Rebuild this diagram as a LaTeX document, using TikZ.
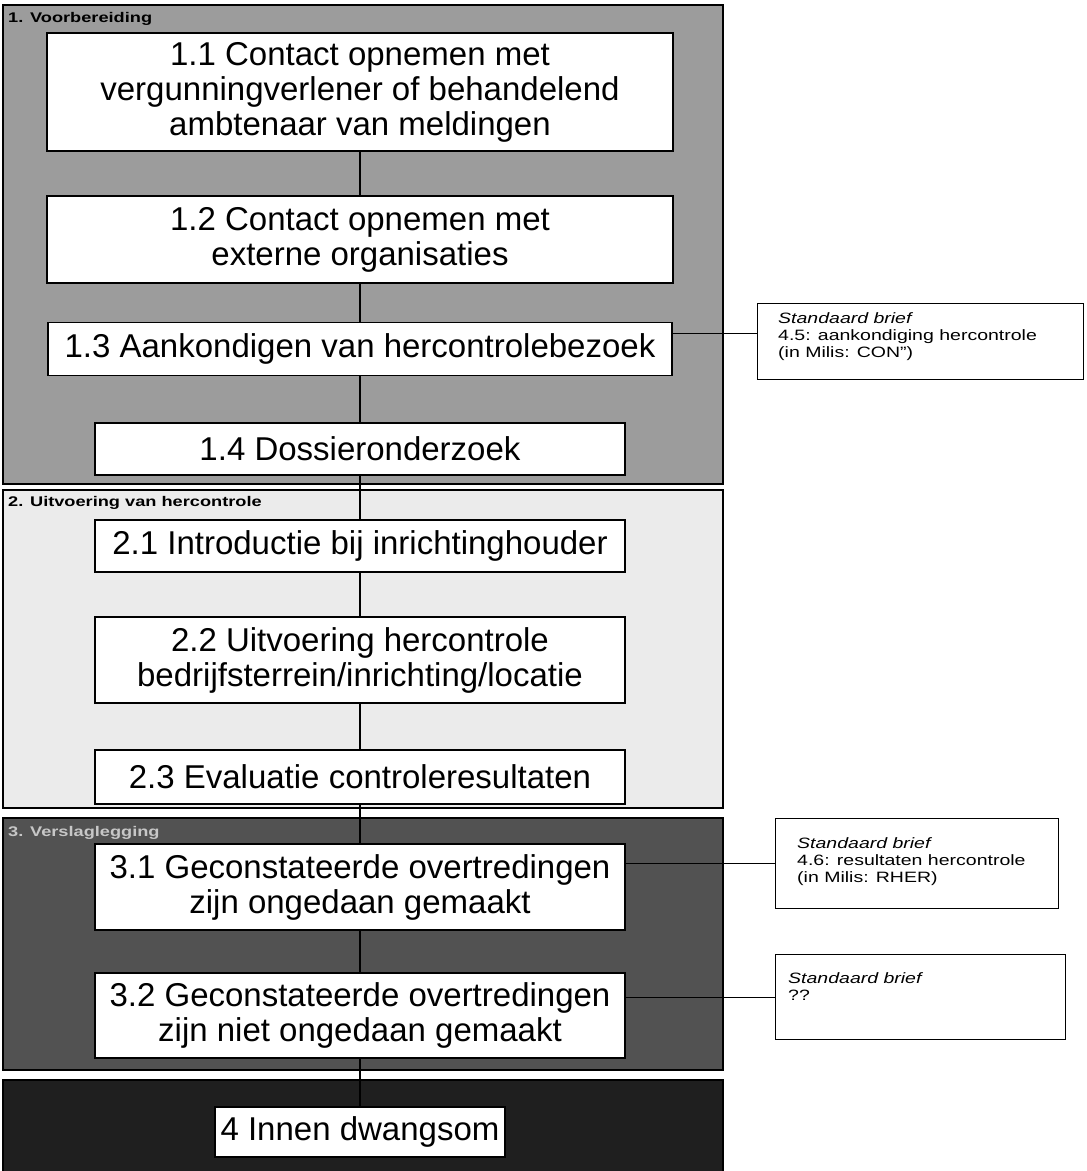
\documentclass[tikz,border=0pt]{standalone}
\usepackage{fontspec}
\setmainfont{Liberation Sans}
\newfontfamily\labfont[FakeStretch=1.3]{Liberation Sans}

\begin{document}
\begin{tikzpicture}[x=1pt,y=1pt,
    stap/.style={draw, line width=1.6pt, fill=white, align=center, inner sep=0pt,
        font=\fontsize{33}{35}\selectfont},
    brief/.style={draw, line width=1.2pt, fill=white, inner sep=0pt},
    brieftxt/.style={align=left, inner sep=0pt,
        font=\labfont\fontsize{15}{17}\selectfont},
    fase/.style={draw, line width=1.2pt},
    faselab/.style={anchor=west, inner sep=0pt,
        font=\labfont\bfseries\fontsize{14}{16}\selectfont},
    lijn/.style={line width=1.2pt}]
    \useasboundingbox (0,0) rectangle (1087,-1171);
    % fase-panelen
    \foreach \ytop/\ybot/\kleur in {5/484/black!39, 490/808/black!8,
        818/1070/black!68, 1080/1180/black!88}
        \draw[fase, fill=\kleur] (3,-\ytop) rectangle (723,-\ybot);
    \path[nodes=faselab]
        (8,-19) node (lab1) {1. Voorbereiding}
        (8,-503) node (lab2) {2. Uitvoering van hercontrole}
        (8,-833) node[text=black!22] (lab3) {3. Verslaglegging};
    % stappen
    \foreach \nm/\ypos/\bbr/\bho/\lab in {%
        b11/92/626/118/{1.1 Contact opnemen met\\vergunningverlener of behandelend\\ambtenaar van meldingen},
        b12/239.5/626/87/{1.2 Contact opnemen met\\externe organisaties},
        b13/349/624/53/{1.3 Aankondigen van hercontrolebezoek},
        b14/449/530/52/{1.4 Dossieronderzoek},
        b21/546/530/52/{2.1 Introductie bij inrichtinghouder},
        b22/660/530/86/{2.2 Uitvoering hercontrole\\bedrijfsterrein/inrichting/locatie},
        b23/777/530/54/{2.3 Evaluatie controleresultaten},
        b31/887/530/86/{3.1 Geconstateerde overtredingen\\zijn ongedaan gemaakt},
        b32/1015.5/530/85/{3.2 Geconstateerde overtredingen\\zijn niet ongedaan gemaakt},
        b4/1132/290/50/{4 Innen dwangsom}%
    }{
        \node[stap, minimum width=\bbr, minimum height=\bho] (\nm) at (360,-\ypos) {\lab};
    }
    \foreach \a/\b in {b11/b12, b12/b13, b13/b14, b14/b21, b21/b22,
        b22/b23, b23/b31, b31/b32, b32/b4}
        \draw[lijn] (\a) -- (\b);
    % standaardbrieven
    \path[nodes={brief, anchor=north west}]
        (757,-303) node[minimum width=326, minimum height=76] (sbA) {}
        (775,-818) node[minimum width=283, minimum height=90] (sbB) {}
        (775,-954) node[minimum width=290, minimum height=85] (sbC) {};
    \node[brieftxt, anchor=north west] (tA) at ([shift={(21,-9)}]sbA.north west)
        {\textit{Standaard brief}\\4.5: aankondiging hercontrole\\(in Milis: CON”)};
    \node[brieftxt, anchor=north west] (tB) at ([shift={(22,-19)}]sbB.north west)
        {\textit{Standaard brief}\\4.6: resultaten hercontrole\\(in Milis: RHER)};
    \node[brieftxt, anchor=north west] (tC) at ([shift={(13,-18)}]sbC.north west)
        {\textit{Standaard brief}\\??};
    \coordinate (pA) at ([yshift=8]sbA.west);
    \draw[lijn] (pA) -- (pA -| b13.east);
    \draw[lijn] (sbB.west) -- (sbB.west -| b31.east);
    \draw[lijn] (sbC.west) -- (sbC.west -| b32.east);
\end{tikzpicture}
\end{document}
